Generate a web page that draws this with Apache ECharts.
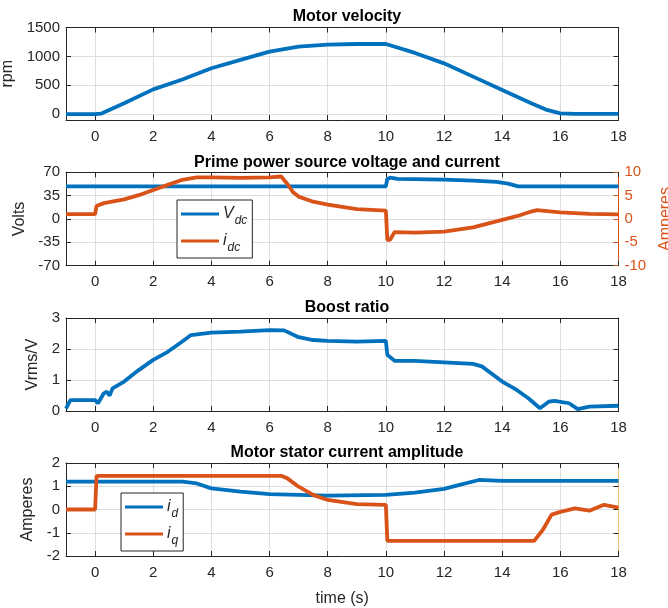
<!DOCTYPE html>
<html><head><meta charset="utf-8">
<script src="https://cdn.jsdelivr.net/npm/echarts@6/dist/echarts.min.js"></script>
<style>html,body{margin:0;padding:0;background:#fff}#c{width:668px;height:608px}</style>
</head><body><div id="c"></div>
<script>
// ---- data ----
const X_TICKS = [0,2,4,6,8,10,12,14,16,18];
const VEL_TICKS = [0,500,1000,1500];
const TIME_VEL = [-1,0,0.2,1,2,3,4,5,6,7,8,9,10,11,12,13,14,15,15.5,16,16.5,18];
const VEL = [0,0,10,190,430,600,795,940,1083,1170,1205,1215,1215,1060,880,650,420,190,80,15,5,5];
const TIME_VDC = [-1,10,10.05,10.15,10.4,12,13,13.8,14.2,14.55,18];
const VDC = [49,49,60,62,60,59,57.5,55.5,53,49,49];
const TIME_IDC = [-1,0,0.05,0.3,1,1.5,2,2.5,3,3.5,4,5,6,6.4,6.6,6.8,7,7.5,8,9,10,10.05,10.15,10.3,11,12,13,14,14.5,15,15.2,16,17,18];
const IDC = [1.05,1.05,2.8,3.4,4.2,5.1,6.2,7.3,8.4,8.9,8.9,8.8,8.9,9.1,7.6,5.8,4.8,3.7,3.1,2.1,1.8,-4.5,-4.4,-2.8,-2.9,-2.7,-1.8,-0.2,0.6,1.6,1.9,1.4,1.1,1.0];
const TIME_BR = [-1,-0.85,0,0.1,0.3,0.4,0.5,0.6,1,1.5,2,2.5,3,3.3,4,5,6,6.5,7,7.5,8,9,10,10.05,10.3,11,12,13,13.3,14,14.5,14.9,15.1,15.3,15.6,15.8,16.3,16.6,17,18];
const BR = [0.08,0.35,0.35,0.25,0.57,0.62,0.5,0.73,0.95,1.32,1.65,1.91,2.24,2.45,2.53,2.56,2.61,2.6,2.38,2.29,2.26,2.24,2.26,1.81,1.62,1.62,1.57,1.52,1.44,0.95,0.68,0.41,0.25,0.09,0.3,0.33,0.25,0.06,0.14,0.17];
const TIME_ID = [-1,3,3.5,4,5,6,7,8,10,11,12,12.5,13.2,14,18];
const ID = [1.2,1.2,1.12,0.91,0.77,0.66,0.63,0.6,0.63,0.73,0.89,1.05,1.27,1.23,1.23];
const TIME_IQ = [-1,0,0.05,6.4,6.6,7,7.5,8,9,10,10.05,15.1,15.4,15.7,16,16.5,17,17.5,18];
const IQ = [0,0,1.45,1.45,1.35,0.98,0.63,0.41,0.23,0.2,-1.35,-1.35,-0.87,-0.22,-0.1,0.05,-0.05,0.2,0.08];
const TITLES = ['Motor velocity','Prime power source voltage and current','Boost ratio','Motor stator current amplitude'];

// ---- build ----
const FONT = '"Liberation Sans", Arial, Helvetica, sans-serif';
const AX = '#262626', GRIDC = '#dedede', BLUE = '#0072BD', ORANGE = '#D95319';
const pair = (t, v) => t.map((x, i) => [x, v[i]]);
const plain = v => String(v);
const grids = [
  {left:66, right:49.5, top:27.5, height:92.5},
  {left:66, right:49.5, top:172.3, height:93.4},
  {left:66, right:49.5, top:318, height:93},
  {left:66, right:49.5, top:463, height:93}
].map(g => Object.assign(g, {containLabel:false, outerBoundsMode:'none'}));
const xAxis = [], yAxis = [];
grids.forEach((g, i) => {
  xAxis.push({type:'value', gridIndex:i, position:'bottom', min:-1, max:18,
    axisLine:{show:true, onZero:false, lineStyle:{color:AX, width:1}},
    axisTick:{show:true, inside:true, length:5, customValues:X_TICKS, lineStyle:{color:AX}},
    axisLabel:{show:true, customValues:X_TICKS, color:AX, fontSize:15, fontFamily:FONT, margin:9, formatter:plain},
    splitLine:{show:true, lineStyle:{color:GRIDC}},
    name: i === 3 ? 'time (s)' : '', nameLocation:'middle', nameGap:35,
    nameTextStyle:{color:AX, fontSize:16, fontFamily:FONT}});
  xAxis.push({type:'value', gridIndex:i, position:'top', min:-1, max:18,
    axisLine:{show:true, onZero:false, lineStyle:{color:AX, width:1}},
    axisTick:{show:true, inside:true, length:5, customValues:X_TICKS, lineStyle:{color:AX}},
    axisLabel:{show:false}, splitLine:{show:false}});
});
const yBase = (i, pos) => ({type:'value', gridIndex:i, position:pos,
  axisLine:{show:true, onZero:false, lineStyle:{color:AX, width:1}},
  axisTick:{show:true, inside:true, length:5, lineStyle:{color:AX}},
  axisLabel:{show:pos === 'left', color:AX, fontSize:15, fontFamily:FONT, margin:6, formatter:plain},
  splitLine:{show:pos === 'left', lineStyle:{color:GRIDC}},
  nameLocation:'middle', nameTextStyle:{color:AX, fontSize:16, fontFamily:FONT}});
// plot 1
let a = yBase(0,'left'); Object.assign(a, {min:-100, max:1500, name:'rpm', nameGap:40});
a.axisTick.customValues = VEL_TICKS; a.axisLabel.customValues = VEL_TICKS; yAxis.push(a);
a = yBase(0,'right'); Object.assign(a, {min:-100, max:1500});
a.axisTick.customValues = VEL_TICKS; yAxis.push(a);
// plot 2
a = yBase(1,'left'); Object.assign(a, {min:-70, max:70, interval:35, name:'Volts', nameGap:32}); yAxis.push(a);
a = yBase(1,'right'); Object.assign(a, {min:-10, max:10, interval:5, name:'Amperes', nameGap:39});
a.axisLine.lineStyle.color = ORANGE; a.axisTick.lineStyle.color = ORANGE;
a.axisLabel.show = true; a.axisLabel.color = ORANGE; a.nameTextStyle.color = ORANGE; yAxis.push(a);
// plot 3
a = yBase(2,'left'); Object.assign(a, {min:0, max:3, interval:1, name:'Vrms/V', nameGap:19}); yAxis.push(a);
a = yBase(2,'right'); Object.assign(a, {min:0, max:3, interval:1}); yAxis.push(a);
// plot 4
a = yBase(3,'left'); Object.assign(a, {min:-2, max:2, interval:1, name:'Amperes', nameGap:24}); yAxis.push(a);
a = yBase(3,'right'); Object.assign(a, {min:-2, max:2, interval:1});
a.axisLine.lineStyle.color = '#EDC070'; yAxis.push(a);

const line = (name, xi, yi, data, color) => ({name, type:'line', xAxisIndex:xi, yAxisIndex:yi,
  data, showSymbol:false, symbol:'none', lineStyle:{color, width:3.8}, itemStyle:{color},
  animation:false, silent:true});
const series = [
  line('vel', 0, 0, pair(TIME_VEL, VEL), BLUE),
  line('Vdc', 2, 2, pair(TIME_VDC, VDC), BLUE),
  line('idc', 2, 3, pair(TIME_IDC, IDC), ORANGE),
  line('br', 4, 4, pair(TIME_BR, BR), BLUE),
  line('id', 6, 6, pair(TIME_ID, ID), BLUE),
  line('iq', 6, 6, pair(TIME_IQ, IQ), ORANGE)
];
const LABELS = {Vdc:'{it|V}{sub|dc}', idc:'{it|i}{sub|dc}', id:'{it|i}{sub|d}', iq:'{it|i}{sub|q}'};
const rich = {it:{fontStyle:'italic', fontSize:16, fontFamily:FONT, color:AX},
  sub:{fontStyle:'italic', fontSize:12, fontFamily:FONT, color:AX, padding:[14,0,0,1]}};
const legendBase = (data, left, top) => ({data, left, top, orient:'vertical', icon:'rect',
  itemWidth:38, itemHeight:3, itemGap:6, padding:[6,5,4,4], borderColor:AX, borderWidth:1,
  backgroundColor:'#fff', selectedMode:false,
  formatter: n => LABELS[n], textStyle:{rich, fontFamily:FONT, padding:[0,0,0,-1]}});
const option = {
  animation:false,
  title: TITLES.map((t, i) => ({text:t, left:342, textAlign:'center', top:[4,149.5,295,439.5][i],
    textStyle:{fontSize:16, fontWeight:'bold', color:'#000', fontFamily:FONT}})),
  grid: grids, xAxis, yAxis, series,
  legend:[legendBase(['Vdc','idc'], 177, 200), legendBase(['id','iq'], 121, 493)]
};
const chart = echarts.init(document.getElementById('c'), null, {renderer:'canvas'});
chart.setOption(option);
</script></body></html>
